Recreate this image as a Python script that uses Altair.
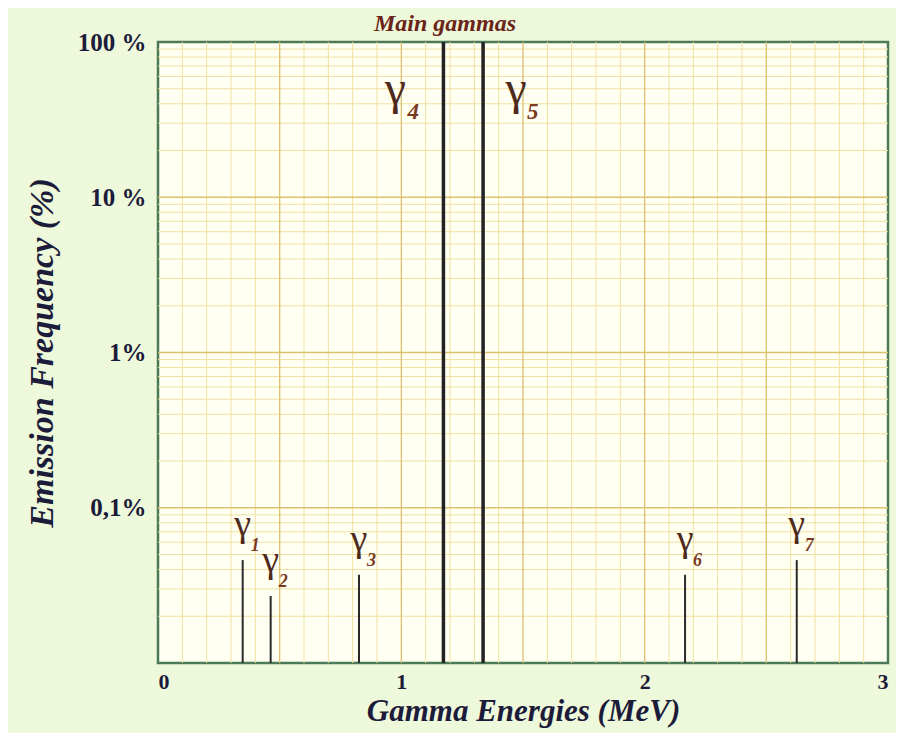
import altair as alt
import pandas as pd

# ---- data ----
gamma_names = ["1", "2", "3", "4", "5", "6", "7"]
gamma_energy_mev = [0.348, 0.463, 0.826, 1.173, 1.336, 2.166, 2.625]
gamma_freq_pct = [0.046, 0.027, 0.037, 100, 100, 0.037, 0.046]

x_tick_values = [0, 1, 2, 3]
y_tick_values = [100, 10, 1, 0.1]
y_tick_labels = ["100 %", "10 %", "1%", "0,1%"]

# grid positions
x_grid_major = [0.5, 1.0, 1.5, 2.0, 2.5]
x_grid_minor = [round(i * 0.1, 1) for i in range(1, 30) if i % 5 != 0]
y_grid_major = [0.1, 1, 10]
y_grid_minor = [round(k * 10.0 ** d, 4) for d in range(-2, 2) for k in range(2, 10)]

big_label_level = 40  # % level at which the two main gamma labels sit

df = pd.DataFrame({"name": gamma_names, "energy": gamma_energy_mev, "freq": gamma_freq_pct})
df["gamma"] = "γ"
small = df[df["freq"] < 1]

FONT = "Liberation Serif"
INK = "#1c1c3a"
BROWN = "#4e2a1c"
SUBBROWN = "#7a3a1e"

xs = alt.Scale(domain=[0, 3], nice=False, zero=False)
ys = alt.Scale(type="log", domain=[0.01, 100], nice=False)

x_axis = alt.Axis(
    values=x_tick_values, title="Gamma Energies (MeV)", grid=False, ticks=False, domain=False,
    labelFont=FONT, labelFontSize=22, labelFontWeight="bold", labelColor=INK, labelPadding=8,
    titleFont=FONT, titleFontSize=31, titleFontStyle="italic", titleFontWeight="bold",
    titleColor=INK, titlePadding=4,
)
label_expr = "{}[indexof({}, datum.value)]".format(
    "[" + ",".join("'" + s + "'" for s in y_tick_labels) + "]",
    "[" + ",".join(str(v) for v in y_tick_values) + "]",
)
y_axis = alt.Axis(
    values=y_tick_values, labelExpr=label_expr, title="Emission Frequency (%)", grid=False,
    ticks=False, domain=False,
    labelFont=FONT, labelFontSize=25, labelFontWeight="bold", labelColor=INK, labelPadding=12,
    titleFont=FONT, titleFontSize=34, titleFontStyle="italic", titleFontWeight="bold",
    titleColor=INK, titlePadding=18,
)


def X(field):
    return alt.X(field, type="quantitative", scale=xs, axis=x_axis)


def Y(field):
    return alt.Y(field, type="quantitative", scale=ys, axis=y_axis)


vminor = alt.Chart(pd.DataFrame({"v": x_grid_minor})).mark_rule(color="#efe0a2", strokeWidth=1).encode(x=X("v"))
vmajor = alt.Chart(pd.DataFrame({"v": x_grid_major})).mark_rule(color="#dcc170", strokeWidth=1.3).encode(x=X("v"))
hminor = alt.Chart(pd.DataFrame({"v": y_grid_minor})).mark_rule(color="#efe0a2", strokeWidth=1).encode(y=Y("v"))
hmajor = alt.Chart(pd.DataFrame({"v": y_grid_major})).mark_rule(color="#dcc170", strokeWidth=1.3).encode(y=Y("v"))

lines_thin = alt.Chart(small).mark_rule(color="#2a2a2a", strokeWidth=2).encode(
    x=X("energy"), y=Y("freq"), y2=alt.datum(0.01)
)
lines_thick = alt.Chart(df[df["freq"] >= 1]).mark_rule(color="#222222", strokeWidth=3.5).encode(
    x=X("energy"), y=Y("freq"), y2=alt.datum(0.01)
)

g_small = alt.Chart(small).mark_text(
    font=FONT, fontSize=38, color=BROWN, align="center", baseline="alphabetic", dy=-24
).encode(x=X("energy"), y=Y("freq"), text="gamma:N")
s_small = alt.Chart(small).mark_text(
    font=FONT, fontSize=18, fontStyle="italic", fontWeight="bold", color=SUBBROWN,
    align="left", baseline="alphabetic", dx=8, dy=-9
).encode(x=X("energy"), y=Y("freq"), text="name:N")

big = df[df["freq"] >= 1].copy()
big["level"] = big_label_level
g4 = alt.Chart(big[big["name"] == "4"]).mark_text(
    font=FONT, fontSize=48, color=BROWN, align="center", baseline="alphabetic", dx=-48
).encode(x=X("energy"), y=Y("level"), text="gamma:N")
s4 = alt.Chart(big[big["name"] == "4"]).mark_text(
    font=FONT, fontSize=23, fontStyle="italic", fontWeight="bold", color=SUBBROWN,
    align="left", baseline="alphabetic", dx=-36, dy=15
).encode(x=X("energy"), y=Y("level"), text="name:N")
g5 = alt.Chart(big[big["name"] == "5"]).mark_text(
    font=FONT, fontSize=48, color=BROWN, align="center", baseline="alphabetic", dx=33
).encode(x=X("energy"), y=Y("level"), text="gamma:N")
s5 = alt.Chart(big[big["name"] == "5"]).mark_text(
    font=FONT, fontSize=23, fontStyle="italic", fontWeight="bold", color=SUBBROWN,
    align="left", baseline="alphabetic", dx=44, dy=15
).encode(x=X("energy"), y=Y("level"), text="name:N")

chart = (
    alt.layer(vminor, hminor, vmajor, hmajor, lines_thin, lines_thick, g_small, s_small, g4, s4, g5, s5)
    .properties(
        width=730,
        height=621,
        title=alt.TitleParams(
            "Main gammas", font=FONT, fontSize=24, fontStyle="italic", fontWeight="bold",
            color="#6a2418", anchor="middle", dx=-78, offset=-6,
        ),
        autosize=alt.AutoSizeParams(type="none"),
        padding={"left": 150, "top": 34, "right": 8, "bottom": 70},
        background="#eef9dc",
    )
    .configure_view(stroke="#4d7a56", strokeWidth=2.5, fill="#fffff2")
)

chart.save("out.html", embed_options={"renderer": "svg", "actions": False})
